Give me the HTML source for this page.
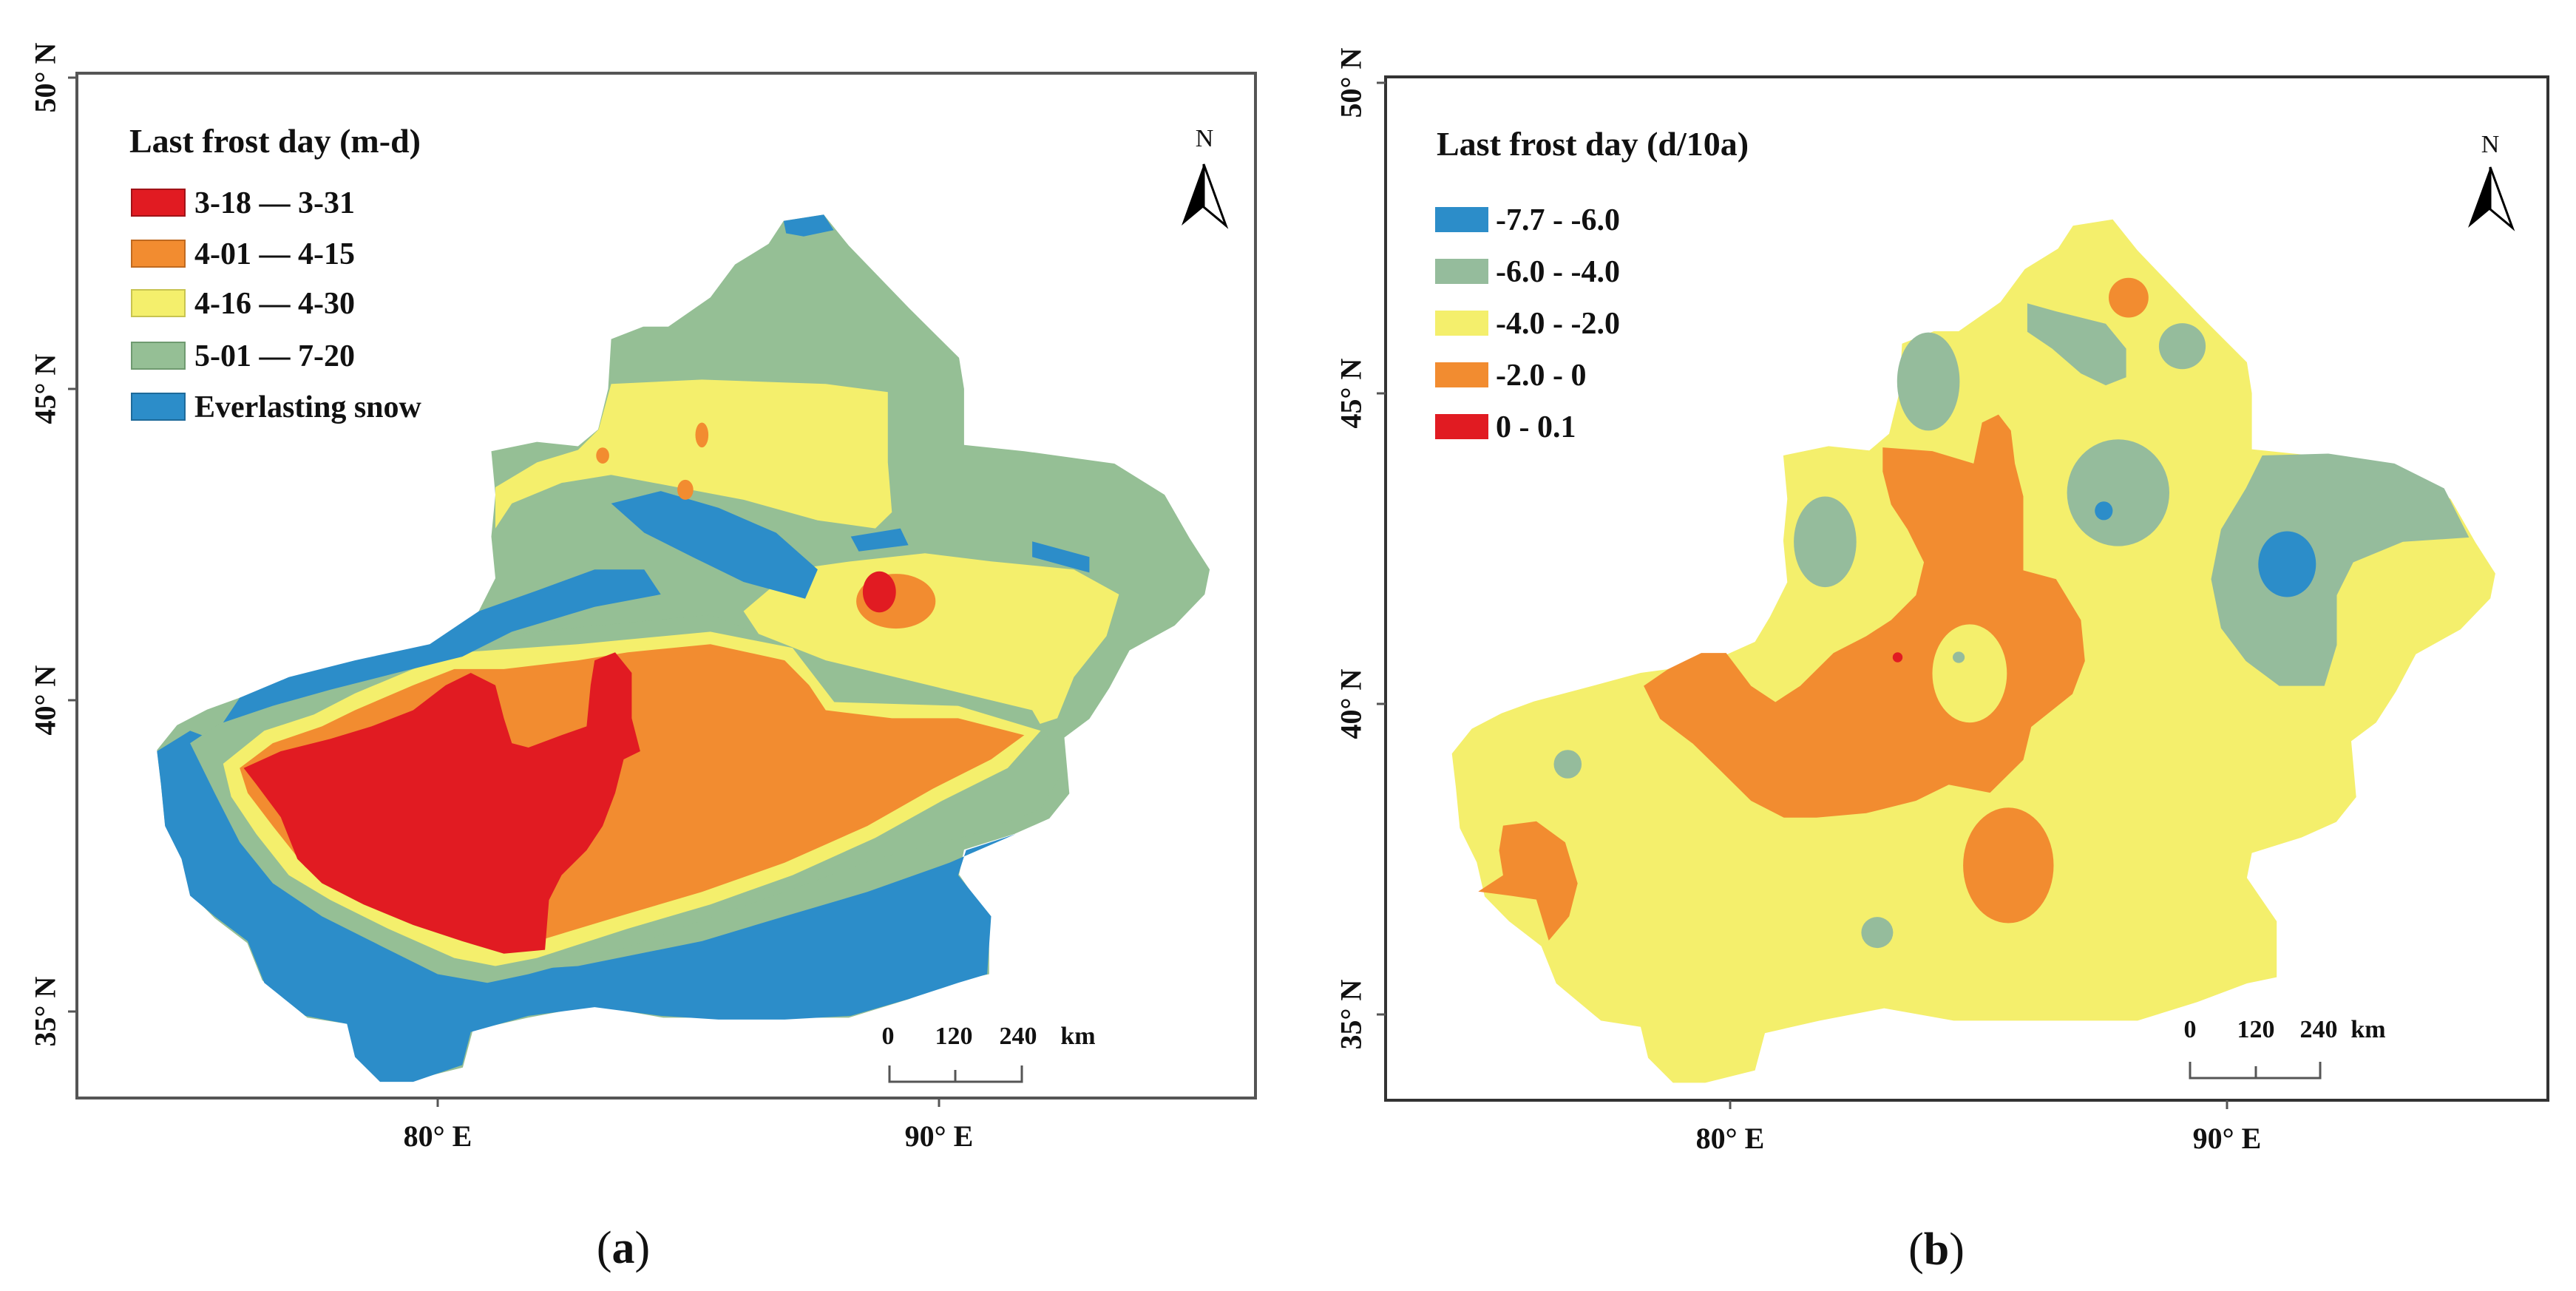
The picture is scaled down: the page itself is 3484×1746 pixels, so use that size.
<!DOCTYPE html>
<html><head><meta charset="utf-8">
<style>
html,body{margin:0;padding:0;background:#fff;}
svg{display:block;}
text{font-family:"Liberation Serif",serif;fill:#111;}
</style></head>
<body>
<svg id="fig" width="3484" height="1746" viewBox="0 0 3484 1746" xmlns="http://www.w3.org/2000/svg">
  <rect x="0" y="0" width="3484" height="1746" fill="#fff"/>
  <g id="panelA"></g>
  <g id="panelB"></g>

  <!-- Panel A frame and furniture -->
  <rect x="104" y="99" width="1594" height="1386" fill="none" stroke="#555" stroke-width="4"/>
  <g font-weight="bold">
    <text x="175" y="206" font-size="46" font-weight="bold">Last frost day (m-d)</text>
    <rect x="178" y="256" width="72" height="36" fill="#e11b22" stroke="#a01318" stroke-width="2"/>
    <text x="263" y="288" font-size="42" font-weight="bold">3-18 — 3-31</text>
    <rect x="178" y="325" width="72" height="36" fill="#f28c30" stroke="#c06a20" stroke-width="2"/>
    <text x="263" y="357" font-size="42" font-weight="bold">4-01 — 4-15</text>
    <rect x="178" y="392" width="72" height="36" fill="#f4ef6c" stroke="#c8c450" stroke-width="2"/>
    <text x="263" y="424" font-size="42" font-weight="bold">4-16 — 4-30</text>
    <rect x="178" y="463" width="72" height="36" fill="#95bf95" stroke="#6f9a70" stroke-width="2"/>
    <text x="263" y="495" font-size="42" font-weight="bold">5-01 — 7-20</text>
    <rect x="178" y="532" width="72" height="36" fill="#2c8dc9" stroke="#1e6a9a" stroke-width="2"/>
    <text x="263" y="564" font-size="42" font-weight="bold">Everlasting snow</text>
  </g>
  <g>
    <text x="1629" y="198" font-size="34" text-anchor="middle" font-family="Liberation Sans, sans-serif">N</text>
    <polygon points="1628,222 1598,305 1628,280" fill="#000"/>
    <polygon points="1628,222 1658,305 1628,280" fill="#fff" stroke="#000" stroke-width="3"/>
  </g>
  <g font-weight="bold" font-size="34">
    <text x="1201" y="1412" text-anchor="middle">0</text>
    <text x="1290" y="1412" text-anchor="middle">120</text>
    <text x="1377" y="1412" text-anchor="middle">240</text>
    <text x="1458" y="1412" text-anchor="middle">km</text>
    <polyline points="1203,1441 1203,1463 1382,1463 1382,1441" fill="none" stroke="#555" stroke-width="3"/>
    <line x1="1292" y1="1447" x2="1292" y2="1463" stroke="#555" stroke-width="3"/>
  </g>

  <!-- Panel B frame and furniture -->
  <rect x="1874" y="104" width="1572" height="1384" fill="none" stroke="#333" stroke-width="4"/>
  <g>
    <text x="1943" y="210" font-size="46" font-weight="bold">Last frost day (d/10a)</text>
    <rect x="1941" y="280" width="72" height="34" fill="#2c8dc9"/>
    <text x="2023" y="311" font-size="42" font-weight="bold">-7.7 - -6.0</text>
    <rect x="1941" y="350" width="72" height="34" fill="#95bc9c"/>
    <text x="2023" y="381" font-size="42" font-weight="bold">-6.0 - -4.0</text>
    <rect x="1941" y="420" width="72" height="34" fill="#f4ef6c"/>
    <text x="2023" y="451" font-size="42" font-weight="bold">-4.0 - -2.0</text>
    <rect x="1941" y="490" width="72" height="34" fill="#f28c30"/>
    <text x="2023" y="521" font-size="42" font-weight="bold">-2.0 - 0</text>
    <rect x="1941" y="560" width="72" height="34" fill="#e11b22"/>
    <text x="2023" y="591" font-size="42" font-weight="bold">0 - 0.1</text>
  </g>
  <g>
    <text x="3368" y="206" font-size="34" text-anchor="middle" font-family="Liberation Sans, sans-serif">N</text>
    <polygon points="3368,226 3338,308 3368,283" fill="#000"/>
    <polygon points="3368,226 3398,308 3368,283" fill="#fff" stroke="#000" stroke-width="3"/>
  </g>
  <g font-weight="bold" font-size="34">
    <text x="2962" y="1403" text-anchor="middle">0</text>
    <text x="3051" y="1403" text-anchor="middle">120</text>
    <text x="3136" y="1403" text-anchor="middle">240</text>
    <text x="3203" y="1403" text-anchor="middle">km</text>
    <polyline points="2962,1436 2962,1458 3138,1458 3138,1436" fill="none" stroke="#555" stroke-width="3"/>
    <line x1="3051" y1="1442" x2="3051" y2="1458" stroke="#555" stroke-width="3"/>
  </g>

  <text x="843" y="1708" font-size="62" text-anchor="middle">(<tspan font-weight="bold">a</tspan>)</text>
  <text x="2619" y="1710" font-size="62" text-anchor="middle">(<tspan font-weight="bold">b</tspan>)</text>
</svg>
<script>
// ---- axis ticks ----
const latTicks = [50, 45, 40, 35];
const lonTicks = [80, 90];
const latLabels = ["50° N", "45° N", "40° N", "35° N"];
const lonLabels = ["80° E", "90° E"];

// ---- region outline (lon, lat) ----
const xinjiangOutline = [[86.9,47.7],[87.7,47.8],[88.2,47.3],[89.4,46.3],[90.4,45.5],[90.5,45.0],[90.5,44.1],[91.7,44.0],[93.5,43.8],[94.5,43.3],[95.0,42.6],[95.4,42.1],[95.3,41.7],[94.7,41.2],[93.8,40.8],[93.4,40.2],[93.0,39.7],[92.5,39.4],[92.6,38.5],[92.2,38.1],[91.5,37.85],[90.5,37.6],[90.4,37.2],[91.0,36.5],[91.0,35.6],[90.4,35.5],[89.4,35.2],[88.2,34.9],[86.9,34.9],[85.6,34.9],[84.5,34.9],[83.1,35.1],[81.8,34.9],[80.7,34.7],[80.5,34.1],[79.5,33.9],[78.85,33.9],[78.35,34.3],[78.2,34.8],[77.4,34.9],[76.5,35.5],[76.2,36.1],[75.55,36.5],[75.06,36.9],[74.9,37.45],[74.56,38.0],[74.48,38.65],[74.4,39.2],[74.8,39.6],[75.4,39.85],[76.05,40.04],[77.0,40.24],[78.2,40.5],[79.5,40.64],[80.5,41.0],[80.8,41.4],[81.15,41.96],[81.07,42.63],[81.15,43.3],[81.07,44.0],[81.98,44.15],[82.8,44.08],[83.2,44.35],[83.4,45.0],[83.46,45.8],[84.1,46.0],[84.6,46.0],[85.44,46.47],[85.93,47.0],[86.6,47.33]];

// ---- panel (a) category regions ----
const aSnowSouth = [[74.4,39.18],[74.48,38.65],[74.56,37.98],[74.89,37.45],[75.06,36.86],[75.55,36.53],[76.21,36.13],[76.54,35.46],[77.36,34.93],[78.19,34.8],[78.35,34.27],[78.85,33.87],[79.51,33.87],[80.49,34.14],[80.66,34.67],[81.81,34.93],[83.13,35.07],[84.45,34.93],[85.6,34.87],[86.92,34.87],[88.24,34.93],[89.39,35.2],[90.38,35.46],[90.96,35.6],[91.04,36.53],[90.38,37.19],[90.54,37.59],[91.53,37.85],[90.21,37.39],[88.57,36.92],[86.92,36.53],[85.27,36.13],[82.8,35.73],[81.48,35.66],[80.49,35.86],[79.18,36.26],[77.86,36.79],[76.87,37.32],[76.21,38.25],[76.05,38.91],[75.72,39.31],[75.06,39.51]];
const aYellowNorth = [[83.46,45.08],[85.27,45.15],[87.74,45.08],[88.98,44.95],[88.98,43.82],[89.06,43.02],[88.73,42.76],[87.58,42.89],[86.1,43.22],[84.78,43.42],[83.46,43.62],[82.47,43.49],[81.48,43.16],[81.15,42.76],[81.15,43.42],[81.98,43.82],[82.8,44.02],[83.21,44.35]];
const aYellowEast = [[86.1,41.43],[87.08,42.1],[88.24,42.23],[89.72,42.36],[91.04,42.23],[92.69,42.1],[93.59,41.7],[93.34,41.03],[92.69,40.37],[92.36,39.71],[91.86,39.58],[89.88,39.71],[88.57,39.84],[87.74,40.11],[87.08,40.64],[86.43,41.03]];
const aGreenRim = [[75.06,39.31],[76.05,39.84],[77.53,40.24],[79.84,40.9],[82.8,41.17],[85.44,41.37],[87.74,40.64],[91.86,39.84],[92.52,38.91],[92.03,38.25],[90.71,37.85],[88.73,37.45],[86.92,36.92],[85.27,36.46],[83.62,35.99],[81.81,35.6],[80.99,35.46],[80.0,35.6],[78.85,36.06],[77.69,36.53],[76.71,37.06],[76.05,37.72],[75.55,38.51]];
const aYellowRim = [[75.72,38.98],[76.54,39.51],[77.53,39.77],[78.35,40.11],[79.51,40.5],[80.49,40.77],[82.8,40.9],[85.44,41.1],[87.08,40.84],[87.91,39.97],[90.38,39.91],[92.03,39.51],[91.37,38.91],[90.05,38.38],[88.73,37.79],[87.08,37.19],[85.44,36.72],[83.79,36.33],[81.98,35.86],[81.15,35.73],[80.33,35.86],[79.01,36.33],[77.86,36.79],[77.03,37.19],[76.38,37.85],[75.88,38.45]];
const aOrangeBasin = [[76.05,38.91],[76.71,39.31],[77.69,39.58],[78.35,39.84],[79.51,40.24],[80.33,40.5],[81.32,40.5],[82.8,40.64],[83.79,40.77],[85.44,40.9],[86.92,40.64],[87.41,40.24],[87.74,39.84],[89.06,39.71],[90.38,39.71],[91.7,39.44],[91.04,39.05],[89.88,38.58],[88.57,37.98],[86.92,37.39],[85.27,36.92],[83.62,36.53],[81.98,36.13],[81.15,35.99],[80.49,36.13],[79.18,36.53],[78.19,36.92],[77.36,37.32],[76.71,37.98],[76.21,38.51]];
const aRedBasin = [[76.13,38.91],[76.87,39.18],[77.86,39.38],[78.68,39.58],[79.51,39.84],[80.16,40.24],[80.66,40.44],[81.15,40.24],[81.32,39.71],[81.48,39.31],[81.81,39.24],[82.47,39.44],[82.97,39.58],[83.05,40.24],[83.13,40.64],[83.54,40.77],[83.87,40.44],[83.87,39.71],[84.04,39.18],[83.71,39.05],[83.54,38.51],[83.29,37.98],[82.97,37.59],[82.47,37.19],[82.22,36.79],[82.14,35.99],[81.32,35.93],[80.49,36.13],[79.51,36.39],[78.52,36.72],[77.69,37.06],[77.2,37.45],[76.87,38.12],[76.38,38.65]];
const aSnowBand1 = [[76.05,40.04],[77.03,40.37],[78.35,40.64],[79.84,40.9],[80.82,41.43],[81.98,41.76],[83.13,42.1],[84.12,42.1],[84.45,41.7],[83.13,41.5],[81.48,41.1],[80.49,40.7],[79.18,40.44],[77.86,40.17],[76.71,39.91],[75.72,39.64]];
const aSnowBand2 = [[83.46,43.16],[84.45,43.36],[85.6,43.09],[86.75,42.69],[87.58,42.1],[87.33,41.63],[86.1,41.9],[85.11,42.29],[84.12,42.69]];
const aSnowBand3 = [[88.24,42.63],[89.23,42.76],[89.39,42.49],[88.4,42.39]];
const aSnowBand4 = [[91.86,42.55],[93.0,42.3],[93.0,42.05],[91.86,42.3]];
const aSnowAltai = [[86.9,47.7],[87.7,47.8],[87.9,47.55],[87.3,47.45],[86.95,47.5]];
// spots: [lon, lat, rLon, rLat]
const aSpotOrange = [[89.14,41.59,0.79,0.44],[85.27,44.26,0.13,0.2],[83.29,43.93,0.13,0.13],[84.94,43.38,0.16,0.16]];
const aSpotRed = [[88.81,41.74,0.33,0.33]];

// ---- panel (b) trend regions ----
const bOrangeCentral = [[83.07,44.13],[84.07,44.07],[84.9,43.87],[85.07,44.53],[85.4,44.66],[85.65,44.4],[85.73,43.87],[85.9,43.34],[85.9,42.15],[86.56,42.01],[87.06,41.35],[87.14,40.69],[86.89,40.16],[86.06,39.63],[85.9,39.1],[85.56,38.83],[85.23,38.57],[84.4,38.7],[83.74,38.44],[82.74,38.24],[81.74,38.17],[81.08,38.17],[80.42,38.44],[79.75,38.97],[79.25,39.36],[78.59,39.76],[78.26,40.29],[78.75,40.56],[79.42,40.82],[79.92,40.82],[80.42,40.29],[80.91,40.03],[81.41,40.29],[82.08,40.82],[82.74,41.09],[83.24,41.35],[83.74,41.75],[83.9,42.28],[83.57,42.81],[83.24,43.21],[83.07,43.74]];
const bOrangeSW = [[75.43,38.04],[76.1,38.11],[76.68,37.77],[76.93,37.11],[76.76,36.58],[76.35,36.19],[76.1,36.85],[75.6,36.91],[74.93,36.98],[75.43,37.24],[75.35,37.64]];
const bGreenNorth = [[85.98,46.45],[86.56,46.32],[87.56,46.12],[87.97,45.72],[87.97,45.26],[87.56,45.13],[87.06,45.32],[86.48,45.72],[85.98,45.99]];
const bGreenEast = [[90.71,44.0],[92.04,44.03],[93.37,43.87],[94.37,43.47],[94.87,42.68],[93.54,42.61],[92.54,42.28],[92.21,41.75],[92.21,40.95],[91.96,40.29],[91.05,40.29],[90.38,40.69],[89.88,41.22],[89.68,42.01],[89.88,42.81],[90.38,43.47]];
// spots: [lon, lat, rLon, rLat]
const bSpotOrange = [[85.6,37.4,0.91,0.93],[88.02,46.54,0.4,0.32]];
const bSpotYellow = [[84.82,40.49,0.75,0.79]];
const bSpotGreen = [[81.91,42.61,0.63,0.73],[83.99,45.19,0.63,0.79],[89.1,45.76,0.47,0.37],[87.81,43.4,1.03,0.86],[76.73,39.03,0.28,0.23],[82.96,36.32,0.32,0.25],[84.6,40.75,0.12,0.09]];
const bSpotBlue = [[87.52,43.11,0.18,0.15],[91.21,42.25,0.58,0.53]];
const bSpotRed = [[83.37,40.75,0.1,0.08]];

const COL = {red:"#e11b22", orange:"#f28c30", yellow:"#f4ef6c", green:"#95bf95", greenB:"#95bc9c", blue:"#2c8dc9"};
const NS = "http://www.w3.org/2000/svg";

function makeAxes(x0, kx, y0, ky){
  return { X: lon => x0 + (lon - 80) * kx, Y: lat => y0 - (lat - 40) * ky };
}
const axA = makeAxes(592, 67.8, 947, 84.2);
const axB = makeAxes(2340, 67.2, 952, 84.0);

function poly(g, ax, pts, fill, name){
  const p = document.createElementNS(NS, "polygon");
  p.setAttribute("points", pts.map(q => ax.X(q[0]).toFixed(1) + "," + ax.Y(q[1]).toFixed(1)).join(" "));
  p.setAttribute("fill", fill);
  
  
  g.appendChild(p);
}
function spots(g, ax, arr, fill, name){
  arr.forEach(s => {
    const e = document.createElementNS(NS, "ellipse");
    e.setAttribute("cx", ax.X(s[0]).toFixed(1));
    e.setAttribute("cy", ax.Y(s[1]).toFixed(1));
    e.setAttribute("rx", (s[2] * (ax.X(81) - ax.X(80))).toFixed(1));
    e.setAttribute("ry", (s[3] * (ax.Y(40) - ax.Y(41))).toFixed(1));
    e.setAttribute("fill", fill);
    
    
    g.appendChild(e);
  });
}
function axisLabels(ax, frameLeft, frameBottom, labelX, prefix){
  const svg = document.getElementById("fig");
  latTicks.forEach((v, i) => {
    const y = ax.Y(v);
    const t = document.createElementNS(NS, "line");
    t.setAttribute("x1", frameLeft - 12); t.setAttribute("x2", frameLeft);
    t.setAttribute("y1", y); t.setAttribute("y2", y);
    t.setAttribute("stroke", "#555"); t.setAttribute("stroke-width", "3");
    
    
    svg.appendChild(t);
    const tx = document.createElementNS(NS, "text");
    tx.setAttribute("x", labelX); tx.setAttribute("y", y);
    tx.setAttribute("font-size", "40"); tx.setAttribute("font-weight", "bold");
    tx.setAttribute("text-anchor", "middle"); tx.setAttribute("dominant-baseline", "central");
    tx.setAttribute("transform", "rotate(-90 " + labelX + " " + y + ")");
    tx.textContent = latLabels[i];
    
    
    svg.appendChild(tx);
  });
  lonTicks.forEach((v, i) => {
    const x = ax.X(v);
    const t = document.createElementNS(NS, "line");
    t.setAttribute("x1", x); t.setAttribute("x2", x);
    t.setAttribute("y1", frameBottom); t.setAttribute("y2", frameBottom + 12);
    t.setAttribute("stroke", "#555"); t.setAttribute("stroke-width", "3");
    
    
    svg.appendChild(t);
    const tx = document.createElementNS(NS, "text");
    tx.setAttribute("x", x); tx.setAttribute("y", frameBottom + 65);
    tx.setAttribute("font-size", "40"); tx.setAttribute("font-weight", "bold");
    tx.setAttribute("text-anchor", "middle");
    tx.textContent = lonLabels[i];
    
    
    svg.appendChild(tx);
  });
}

// Panel A
const gA = document.getElementById("panelA");
poly(gA, axA, xinjiangOutline, COL.green, "region-outline-a");
poly(gA, axA, aSnowSouth, COL.blue, "snow-kunlun");
poly(gA, axA, aSnowAltai, COL.blue, "snow-altai");
poly(gA, axA, aYellowNorth, COL.yellow, "yellow-junggar");
poly(gA, axA, aYellowEast, COL.yellow, "yellow-turpan-hami");
poly(gA, axA, aGreenRim, COL.green, "green-basin-rim");
poly(gA, axA, aYellowRim, COL.yellow, "yellow-basin-rim");
poly(gA, axA, aOrangeBasin, COL.orange, "orange-tarim");
poly(gA, axA, aRedBasin, COL.red, "red-tarim");
poly(gA, axA, aSnowBand1, COL.blue, "snow-band-south-tianshan");
poly(gA, axA, aSnowBand2, COL.blue, "snow-band-tianshan");
poly(gA, axA, aSnowBand3, COL.blue, "snow-band-east");
poly(gA, axA, aSnowBand4, COL.blue, "snow-band-hami");
spots(gA, axA, aSpotOrange, COL.orange, "orange-spot");
spots(gA, axA, aSpotRed, COL.red, "red-spot");
axisLabels(axA, 104, 1485, 61, "panel-a");

// Panel B
const gB = document.getElementById("panelB");
poly(gB, axB, xinjiangOutline, COL.yellow, "region-outline-b");
poly(gB, axB, bOrangeCentral, COL.orange, "orange-central");
poly(gB, axB, bOrangeSW, COL.orange, "orange-southwest");
poly(gB, axB, bGreenNorth, COL.greenB, "green-north");
poly(gB, axB, bGreenEast, COL.greenB, "green-east");
spots(gB, axB, bSpotOrange, COL.orange, "orange-spot-b");
spots(gB, axB, bSpotYellow, COL.yellow, "yellow-spot-b");
spots(gB, axB, bSpotGreen, COL.greenB, "green-spot-b");
spots(gB, axB, bSpotBlue, COL.blue, "blue-spot-b");
spots(gB, axB, bSpotRed, COL.red, "red-spot-b");
axisLabels(axB, 1874, 1488, 1827, "panel-b");
</script>
</body></html>
